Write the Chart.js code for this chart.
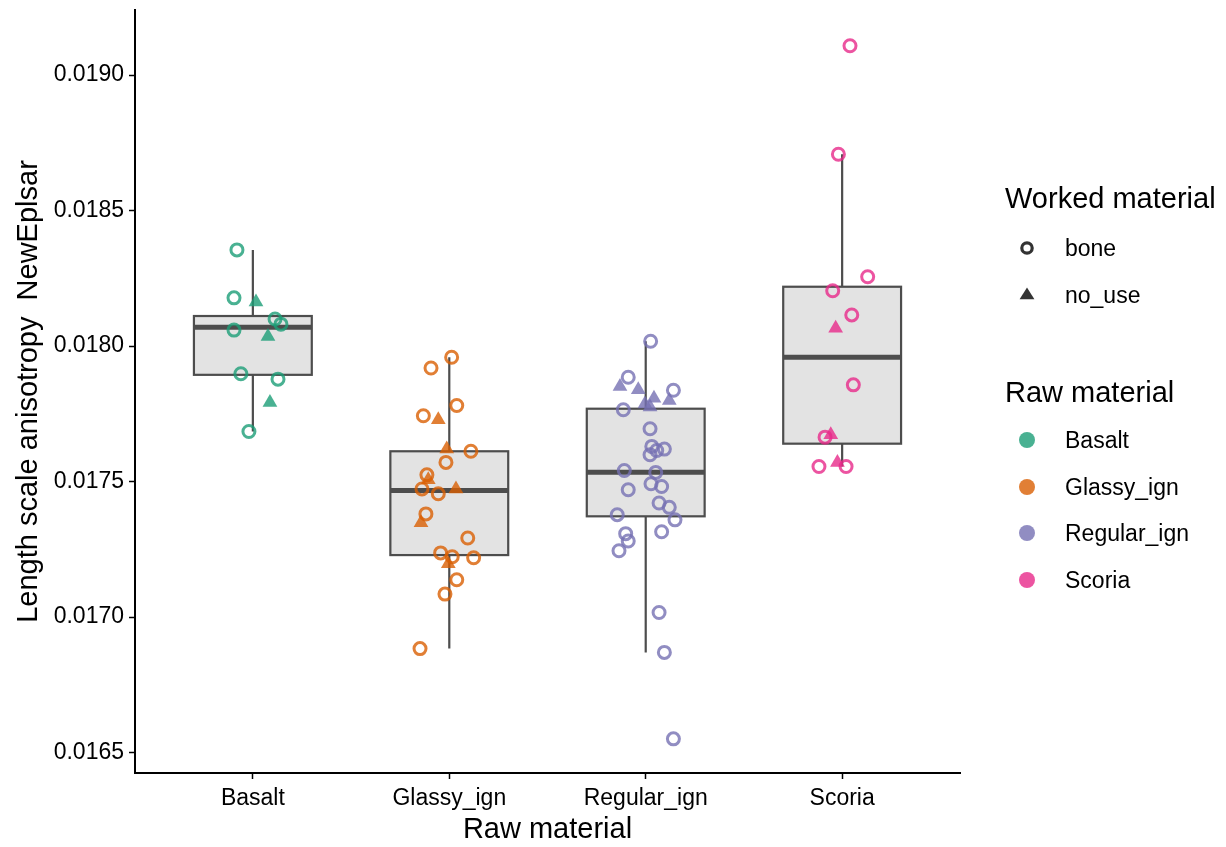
<!DOCTYPE html>
<html>
<head>
<meta charset="utf-8">
<script src="https://cdn.jsdelivr.net/npm/chart.js@4"></script>
<style>
    html, body { margin: 0; padding: 0; background: #fff; }
    #wrap { position: relative; width: 1226px; height: 847px; font-family: "Liberation Sans", Arial, sans-serif; }
    #chart { position: absolute; left: 0; top: 0; }
    .lg { position: absolute; white-space: nowrap; color: #000; }
    .lg-title { font-size: 29px; height: 34px; line-height: 34px; }
    .lg-item { font-size: 23px; height: 28px; line-height: 28px; }
    .lg svg { position: absolute; left: -48px; top: 0; }
</style>
</head>
<body>
<div id="wrap">
    <canvas id="chart" width="1226" height="847"></canvas>
    <div class="lg lg-title" style="left:1005px; top:181px;">Worked material</div>
    <div class="lg lg-item" style="left:1065px; top:234px;"><svg width="28" height="28"><circle cx="10" cy="14" r="5.2" fill="none" stroke="#333" stroke-width="3.2"/></svg>bone</div>
    <div class="lg lg-item" style="left:1065px; top:281px;"><svg width="28" height="28"><polygon points="10,6.5 17.4,18.3 2.6,18.3" fill="#333"/></svg>no_use</div>
    <div class="lg lg-title" style="left:1005px; top:375px;">Raw material</div>
    <div class="lg lg-item" style="left:1065px; top:426px;"><svg width="28" height="28"><circle cx="10" cy="14" r="8" fill="rgba(27,158,119,0.8)"/></svg>Basalt</div>
    <div class="lg lg-item" style="left:1065px; top:473px;"><svg width="28" height="28"><circle cx="10" cy="14" r="8" fill="rgba(217,95,2,0.8)"/></svg>Glassy_ign</div>
    <div class="lg lg-item" style="left:1065px; top:519px;"><svg width="28" height="28"><circle cx="10" cy="14" r="8" fill="rgba(117,112,179,0.8)"/></svg>Regular_ign</div>
    <div class="lg lg-item" style="left:1065px; top:566px;"><svg width="28" height="28"><circle cx="10" cy="14" r="8" fill="rgba(231,41,138,0.8)"/></svg>Scoria</div>
</div>
<script>
// categories and colours
const categories = ['Basalt', 'Glassy_ign', 'Regular_ign', 'Scoria'];
const colors = ['rgba(27,158,119,0.8)', 'rgba(217,95,2,0.8)', 'rgba(117,112,179,0.8)', 'rgba(231,41,138,0.8)'];
const yTicks = [0.0165, 0.0170, 0.0175, 0.0180, 0.0185, 0.0190];

// box stats per category
const whiskerLow  = [0.017685, 0.016884, 0.016870, 0.017556];
const q1          = [0.017894, 0.017229, 0.017372, 0.017640];
const median      = [0.018070, 0.017467, 0.017535, 0.017959];
const q3          = [0.018111, 0.017612, 0.017769, 0.018219];
const whiskerHigh = [0.018355, 0.017959, 0.018018, 0.018708];

// points: value, jitter (category units), worked material ('b' bone / 'n' no_use)
const basaltY = [0.018355, 0.018178, 0.018163, 0.018100, 0.018081, 0.018059, 0.018035, 0.017898, 0.017878, 0.017792, 0.017685];
const basaltJ = [-0.081, -0.096, 0.016, 0.113, 0.143, -0.096, 0.077, -0.061, 0.128, 0.087, -0.020];
const basaltW = ['b', 'b', 'n', 'b', 'b', 'b', 'n', 'b', 'b', 'n', 'b'];

const glassyY = [0.017959, 0.017919, 0.017781, 0.017743, 0.017728, 0.017620, 0.017612, 0.017571, 0.017525, 0.017507, 0.017473, 0.017455,
                 0.017473, 0.017381, 0.017348, 0.017292, 0.017237, 0.017223, 0.017197, 0.017219, 0.017138, 0.017085, 0.016884];
const glassyJ = [0.012, -0.093, 0.038, -0.132, -0.056, -0.013, 0.110, -0.017, -0.114, -0.107, -0.139, -0.056,
                 0.034, -0.119, -0.144, 0.094, -0.044, 0.015, -0.005, 0.124, 0.038, -0.022, -0.149];
const glassyW = ['b', 'b', 'b', 'b', 'n', 'n', 'b', 'b', 'b', 'n', 'b', 'b',
                 'n', 'b', 'n', 'b', 'b', 'b', 'n', 'b', 'b', 'b', 'b'];

const regularY = [0.018018, 0.017885, 0.017851, 0.017839, 0.017837, 0.017808, 0.017799, 0.017786, 0.017775, 0.017765, 0.017695,
                  0.017630, 0.017620, 0.017615, 0.017599, 0.017541, 0.017534, 0.017492, 0.017482, 0.017470, 0.017421, 0.017405,
                  0.017378, 0.017359, 0.017315, 0.017308, 0.017281, 0.017245, 0.017017, 0.016870, 0.016551];
const regularJ = [0.025, -0.089, -0.131, -0.038, 0.141, 0.042, 0.120, -0.004, 0.022, -0.114, 0.022,
                  0.031, 0.095, 0.056, 0.022, -0.109, 0.051, 0.027, 0.081, -0.089, 0.068, 0.120,
                  -0.145, 0.149, 0.081, -0.102, -0.089, -0.136, 0.068, 0.095, 0.141];
const regularW = ['b', 'b', 'n', 'n', 'b', 'n', 'n', 'n', 'n', 'b', 'b',
                  'b', 'b', 'b', 'b', 'b', 'b', 'b', 'b', 'b', 'b', 'b',
                  'b', 'b', 'b', 'b', 'b', 'b', 'b', 'b', 'b'];

const scoriaY = [0.019108, 0.018708, 0.018256, 0.018204, 0.018115, 0.018066, 0.017857, 0.017664, 0.017673, 0.017556, 0.017571, 0.017556];
const scoriaJ = [0.040, -0.019, 0.130, -0.048, 0.049, -0.033, 0.057, -0.087, -0.058, -0.118, -0.024, 0.020];
const scoriaW = ['b', 'b', 'b', 'b', 'b', 'n', 'b', 'b', 'n', 'b', 'n', 'b'];

const groups = [
    { y: basaltY, j: basaltJ, w: basaltW },
    { y: glassyY, j: glassyJ, w: glassyW },
    { y: regularY, j: regularJ, w: regularW },
    { y: scoriaY, j: scoriaJ, w: scoriaW }
];

const FONT = '"Liberation Sans", Arial, sans-serif';
const BOX_HALF = 0.3;

const datasets = groups.map((g, i) => ({
    label: categories[i],
    data: g.y.map((v, k) => ({ x: i + g.j[k], y: v })),
    pointStyle: g.w.map(w => w === 'b' ? 'circle' : 'triangle'),
    pointRadius: g.w.map(w => w === 'b' ? 6 : 8.5),
    pointBorderWidth: g.w.map(w => w === 'b' ? 3 : 0),
    pointBorderColor: colors[i],
    pointBackgroundColor: g.w.map(w => w === 'b' ? 'rgba(0,0,0,0)' : colors[i]),
    showLine: false
}));

// boxplots drawn under the points, positioned via the chart scales
const boxPlugin = {
    id: 'boxes',
    beforeDatasetsDraw(chart) {
        const { ctx, scales: { x, y } } = chart;
        ctx.save();
        categories.forEach((_, i) => {
            const xl = x.getPixelForValue(i - BOX_HALF);
            const xr = x.getPixelForValue(i + BOX_HALF);
            const xc = x.getPixelForValue(i);
            const yq1 = y.getPixelForValue(q1[i]);
            const yq3 = y.getPixelForValue(q3[i]);

            ctx.strokeStyle = '#4d4d4d';
            ctx.lineWidth = 2.2;
            ctx.beginPath();
            ctx.moveTo(xc, y.getPixelForValue(whiskerHigh[i]));
            ctx.lineTo(xc, yq3);
            ctx.moveTo(xc, yq1);
            ctx.lineTo(xc, y.getPixelForValue(whiskerLow[i]));
            ctx.stroke();

            ctx.fillStyle = '#e3e3e3';
            ctx.fillRect(xl, yq3, xr - xl, yq1 - yq3);
            ctx.strokeRect(xl, yq3, xr - xl, yq1 - yq3);

            ctx.lineWidth = 5;
            ctx.beginPath();
            ctx.moveTo(xl, y.getPixelForValue(median[i]));
            ctx.lineTo(xr, y.getPixelForValue(median[i]));
            ctx.stroke();
        });
        ctx.restore();
    }
};

new Chart(document.getElementById('chart'), {
    type: 'scatter',
    data: { datasets },
    plugins: [boxPlugin],
    options: {
        responsive: false,
        animation: false,
        events: [],
        layout: { padding: { left: 0, top: 10, right: 266, bottom: 0 } },
        plugins: { legend: { display: false }, tooltip: { enabled: false } },
        scales: {
            x: {
                type: 'linear',
                min: -0.6,
                max: 3.6,
                afterBuildTicks: (s) => { s.ticks = categories.map((_, i) => ({ value: i })); },
                afterFit: (s) => { s.height = 74; s.paddingLeft = 0; s.paddingRight = 0; },
                grid: { drawOnChartArea: false, drawTicks: true, tickLength: 6, tickWidth: 1.5, tickColor: '#000' },
                border: { display: true, color: '#000', width: 2 },
                ticks: {
                    color: '#000',
                    padding: 6,
                    font: { family: FONT, size: 23 },
                    maxRotation: 0,
                    callback: (v) => categories[v]
                },
                title: { display: true, text: 'Raw material', color: '#000', font: { family: FONT, size: 29 }, padding: { top: 0, bottom: 0 } }
            },
            y: {
                min: 0.016425,
                max: 0.01924,
                afterBuildTicks: (s) => { s.ticks = yTicks.map(v => ({ value: v })); },
                afterFit: (s) => { s.width = 135; s.paddingTop = 0; s.paddingBottom = 0; },
                grid: { drawOnChartArea: false, drawTicks: true, tickLength: 6, tickWidth: 1.5, tickColor: '#000' },
                border: { display: true, color: '#000', width: 2 },
                ticks: {
                    color: '#000',
                    padding: 5,
                    font: { family: FONT, size: 23 },
                    callback: (v) => v.toFixed(4)
                },
                title: { display: true, text: 'Length scale anisotropy  NewEplsar', color: '#000', font: { family: FONT, size: 29 }, padding: { top: 12, bottom: 0 } }
            }
        }
    }
});
</script>
</body>
</html>
